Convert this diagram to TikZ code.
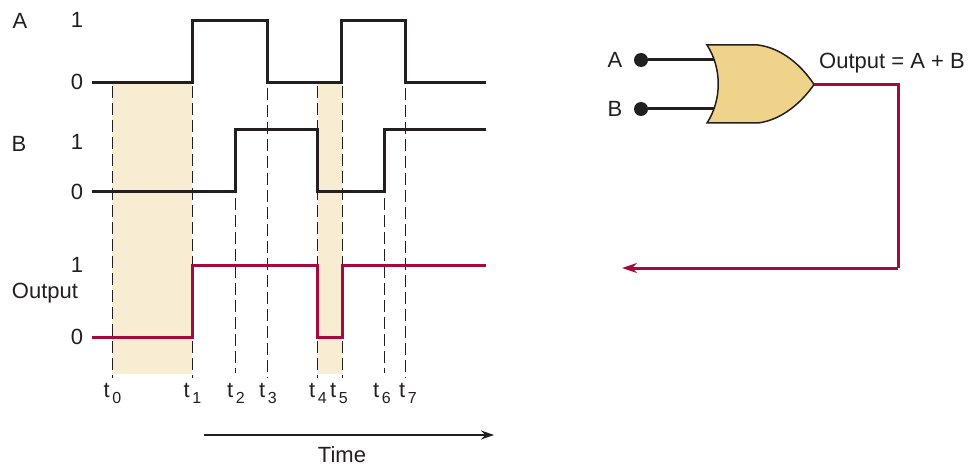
\documentclass[tikz,border=0pt]{standalone}
\usepackage{fontspec}
\setmainfont{Liberation Sans}
\usepackage{tikz}
\usetikzlibrary{positioning}
\usetikzlibrary{arrows.meta}
\definecolor{wavecol}{HTML}{231F20}
\definecolor{outcol}{HTML}{A6093D}
\definecolor{shadecol}{HTML}{F8ECD2}
\definecolor{gatecol}{HTML}{EFD38B}
\newcommand{\tmark}[1]{t\kern2.5pt\raisebox{-6pt}{\fontsize{16}{16}\selectfont #1}}
\tikzset{
    timing diagram/.style={
            x=1pt,y=-1pt,
            label/.style={inner sep=0pt,text=wavecol,font=\fontsize{22}{26}\selectfont},
            wave/.style={draw=wavecol,line width=3pt},
            outwave/.style={draw=outcol,line width=3pt},
            guide/.style={draw=wavecol,line width=0.9pt,dash pattern=on 12pt off 5pt},
            shade/.style={fill=shadecol,draw=none},
            wire/.style={draw=wavecol,line width=3pt},
            outwire/.style={draw=outcol,line width=3pt},
            timearrow/.style={draw=wavecol,line width=1.2pt,-{Stealth[length=13pt,width=9pt]}},
            backarrow/.style={draw=outcol,line width=3pt,-{Stealth[length=15pt,width=10pt]}},
            dot/.style={circle,fill=wavecol,inner sep=0pt,minimum size=14pt}
        }
    }
\begin{document}
\begin{tikzpicture}[timing diagram]
    \useasboundingbox (0,0) rectangle (978,468);
    % shaded intervals
    \fill [shade] (112,84) rectangle (192,374);
    \fill [shade] (317.5,84) rectangle (342,374);
    % guide lines
    \foreach \x/\ya/\yb in {112/86/378, 192/86/378, 235/198/373, 267/88/378, 317.5/86/378, 342/86/378, 384/198/373, 405.5/88/378}
        \draw [guide] (\x,\ya) -- (\x,\yb);
    % time marks
    \foreach \n/\x in {0/112.5, 1/192.5, 2/236, 3/268, 4/318, 5/339, 6/382, 7/408}
        \node [label,anchor=base] (t\n) at (\x,397) {\tmark{\n}};
    % waveforms
    \draw [wave] (92,82.5) -| (192,20.5) -| (267,82.5) -| (341,20.5) -| (405,82.5) -- (486,82.5);
    \draw [wave] (92,192) -| (235,129.5) -| (317.5,192) -| (384,129.5) -- (486,129.5);
    \draw [outwave] (92,337) -| (192,265.5) -| (317.5,337) -| (342,265.5) -- (486,265.5);
    % level labels
    \node [label] (nameA) at (20,21) {A};
    \node [label] (nameB) at (19,144) {B};
    \node [label] (nameOut) at (45,293) {Output};
    \foreach \id/\val/\y in {a1/1/20, a0/0/82, b1/1/142, b0/0/192, o1/1/265, o0/0/337}
        \node [label] (\id) at (77,\y) {\val};
    % time axis
    \coordinate (timeL) at (204,435);
    \coordinate (timeR) at (494,435);
    \draw [timearrow] (timeL) -- (timeR);
    \node [label] (time) at (342,455) {Time};
    % gate
    \node [dot] (dotA) at (641,60) {};
    \node [dot] (dotB) at (641,109) {};
    \node [label,left=26pt of dotA.center,anchor=center] (inA) {A};
    \node [label,left=26pt of dotB.center,anchor=center] (inB) {B};
    \coordinate (gateA) at (714,60);
    \coordinate (gateB) at (714,109);
    \coordinate (gateOut) at (814,84.5);
    \coordinate (corner) at (898,84.5);
    \coordinate (cornerB) at (898,268);
    \coordinate (arrowEnd) at (622,268);
    \draw [wire] (dotA) -- (gateA);
    \draw [wire] (dotB) -- (gateB);
    \draw [draw=wavecol,line width=1.5pt,fill=gatecol,line join=miter] (707,45) -- (758,45)
        .. controls (782,48) and (802,66) .. (gateOut)
        .. controls (802,102) and (782,120) .. (758,123)
        -- (707,123)
        .. controls (722,100) and (722,68) .. cycle;
    \draw [outwire] (gateOut) -- (corner) -- (cornerB);
    \draw [backarrow] (cornerB) -- (arrowEnd);
    \node [label,anchor=west] (gateText) at (819,63) {Output = A + B};
\end{tikzpicture}
\end{document}
